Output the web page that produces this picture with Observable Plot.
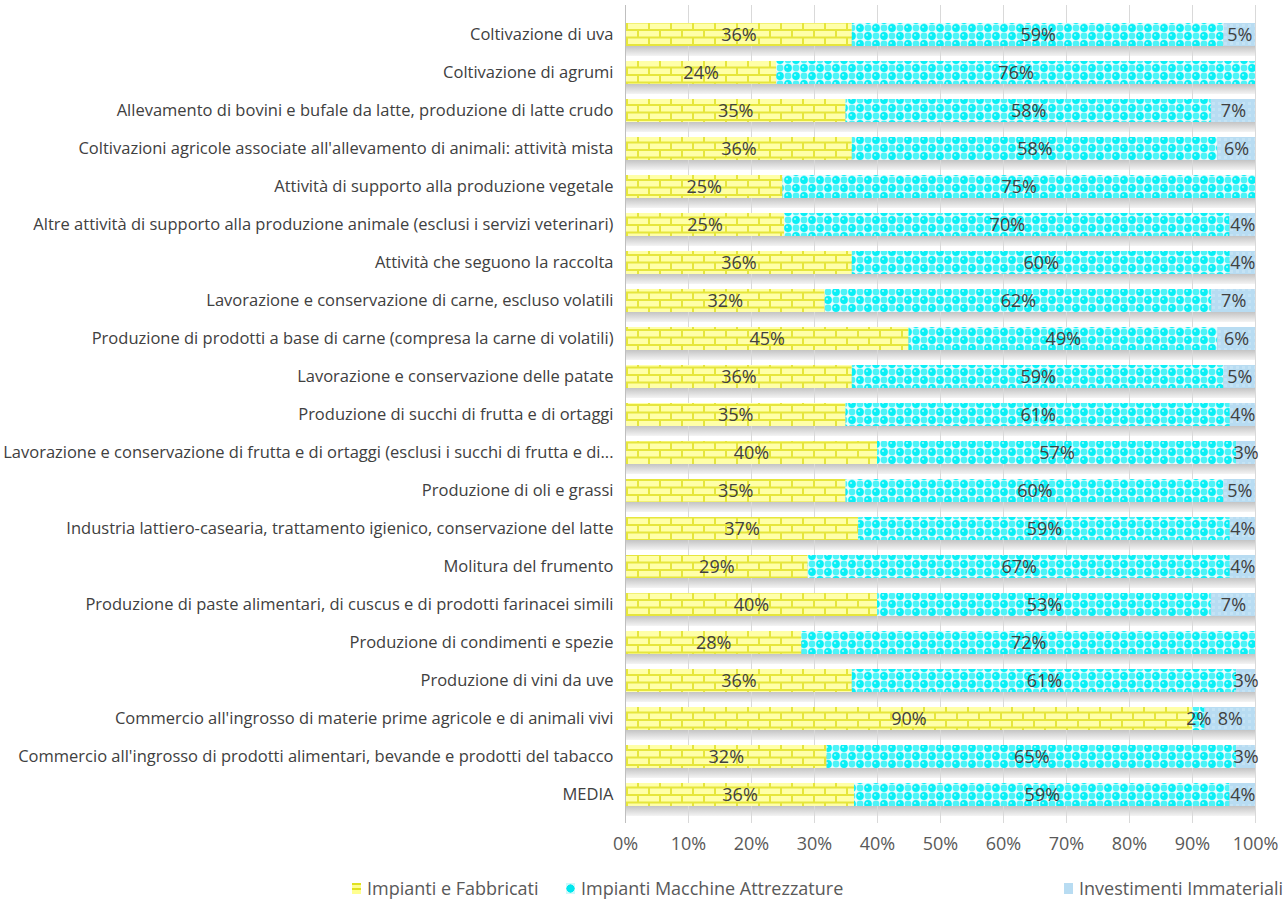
<!DOCTYPE html>
<html>
<head>
<meta charset="utf-8">
<script src="https://cdn.jsdelivr.net/npm/d3@7"></script>
<script src="https://cdn.jsdelivr.net/npm/@observablehq/plot@0.6"></script>
<style>
  html, body { margin: 0; padding: 0; background: #fff; }
  #wrap { position: relative; width: 1288px; height: 912px; }
  #legend { position: absolute; top: 876px; left: 0; width: 1288px; height: 30px;
    font-family: "Open Sans", sans-serif; font-size: 18px; color: #595959; }
  .item { position: absolute; top: 0; display: flex; align-items: center; white-space: nowrap; }
  .sw { width: 9px; height: 11px; margin-right: 6px; }
</style>
</head>
<body>
<div id="wrap">
  <div id="chart"></div>
  <div id="legend"></div>
</div>
<script>
const categories = [
  "Coltivazione di uva",
  "Coltivazione di agrumi",
  "Allevamento di bovini e bufale da latte, produzione di latte crudo",
  "Coltivazioni agricole associate all'allevamento di animali: attività mista",
  "Attività di supporto alla produzione vegetale",
  "Altre attività di supporto alla produzione animale (esclusi i servizi veterinari)",
  "Attività che seguono la raccolta",
  "Lavorazione e conservazione di carne, escluso volatili",
  "Produzione di prodotti a base di carne (compresa la carne di volatili)",
  "Lavorazione e conservazione delle patate",
  "Produzione di succhi di frutta e di ortaggi",
  "Lavorazione e conservazione di frutta e di ortaggi (esclusi i succhi di frutta e di...",
  "Produzione di oli e grassi",
  "Industria lattiero-casearia, trattamento igienico, conservazione del latte",
  "Molitura del frumento",
  "Produzione di paste alimentari, di cuscus e di prodotti farinacei simili",
  "Produzione di condimenti e spezie",
  "Produzione di vini da uve",
  "Commercio all'ingrosso di materie prime agricole e di animali vivi",
  "Commercio all'ingrosso di prodotti alimentari, bevande e prodotti del tabacco",
  "MEDIA"
];
const fabbricati  = [36, 24, 35, 36, 25, 25, 36, 32, 45, 36, 35, 40, 35, 37, 29, 40, 28, 36, 90, 32, 36];
const macchine    = [59, 76, 58, 58, 75, 70, 60, 62, 49, 59, 61, 57, 60, 59, 67, 53, 72, 61, 2, 65, 59];
const immateriali = [5, 0, 7, 6, 0, 4, 4, 7, 6, 5, 4, 3, 5, 4, 4, 7, 0, 3, 8, 3, 4];
const seriesNames = ["Impianti e Fabbricati", "Impianti Macchine Attrezzature", "Investimenti Immateriali"];
const xTicks = [0, 0.1, 0.2, 0.3, 0.4, 0.5, 0.6, 0.7, 0.8, 0.9, 1];

const fills = {
  "Impianti e Fabbricati": "url(#pBrick)",
  "Impianti Macchine Attrezzature": "url(#pDots)",
  "Investimenti Immateriali": "url(#pLight)"
};

const seriesValues = [fabbricati, macchine, immateriali];
const data = [];
categories.forEach((c, i) => {
  seriesNames.forEach((s, k) => {
    data.push({cat: c, series: s, order: k, value: seriesValues[k][i]});
  });
});

const rowData = categories.map(c => ({cat: c, v: 1}));

const chart = Plot.plot({
  width: 1288,
  height: 865,
  marginLeft: 625,
  marginRight: 33,
  marginTop: 5,
  marginBottom: 42,
  style: {background: "transparent"},
  x: {domain: [0, 1], ticks: xTicks, tickFormat: d => Math.round(d * 100) + "%"},
  y: {domain: categories, padding: 0.4},
  marks: [
    Plot.barX(rowData, {x: "v", y: "cat", fill: "url(#gShadow)", dy: 10}),
    Plot.ruleX(xTicks, {stroke: "#d9d9d9", strokeWidth: 1}),
    Plot.barX(data, Plot.stackX({
      x: "value", y: "cat", z: "series", order: "order", offset: "normalize",
      fill: d => fills[d.series]
    })),
    Plot.text(data.filter(d => d.value > 0), Plot.stackX({
      x: "value", y: "cat", z: "series", order: "order", offset: "normalize",
      text: d => d.value + "%",
      fill: "#404040", fontSize: 18, fontFamily: "Open Sans, sans-serif"
    })),
    Plot.ruleX([0], {stroke: "#bfbfbf"}),
    Plot.axisX({ticks: xTicks, tickFormat: d => Math.round(d * 100) + "%", tickSize: 0, tickPadding: 14,
      fontSize: 18, fontFamily: "Open Sans, sans-serif", fill: "#595959", label: null}),
    Plot.axisY({tickSize: 0, tickPadding: 12, fontSize: 16.5, fontFamily: "Open Sans, sans-serif",
      fill: "#404040", label: null, textOverflow: null})
  ]
});

const ns = "http://www.w3.org/2000/svg";
const defs = document.createElementNS(ns, "defs");
defs.innerHTML = `
  <pattern id="pBrick" patternUnits="userSpaceOnUse" width="22" height="15">
    <rect width="22" height="15" fill="#e6e63c"/>
    <rect x="1" y="1" width="20" height="5.5" fill="#ffffa8"/>
    <rect x="0" y="8.5" width="10" height="5.5" fill="#ffffa8"/>
    <rect x="12" y="8.5" width="10" height="5.5" fill="#ffffa8"/>
  </pattern>
  <pattern id="pDots" patternUnits="userSpaceOnUse" width="16" height="16">
    <rect width="16" height="16" fill="#e8fcfd"/>
    <circle cx="4" cy="4" r="3.9" fill="#0af0f6"/>
    <circle cx="12" cy="12" r="3.9" fill="#0af0f6"/>
    <circle cx="12" cy="4" r="3.4" fill="#4ef3f7"/>
    <circle cx="4" cy="12" r="3.4" fill="#4ef3f7"/>
    <circle cx="3" cy="3" r="1.1" fill="#a8f8fa"/>
    <circle cx="11" cy="11" r="1.1" fill="#a8f8fa"/>
  </pattern>
  <pattern id="pLight" patternUnits="userSpaceOnUse" width="6" height="6">
    <rect width="6" height="6" fill="#b8dcf2"/>
    <rect x="0" y="0" width="3" height="3" fill="#c4e3f5"/>
  </pattern>
  <linearGradient id="gShadow" x1="0" y1="0" x2="0" y2="1">
    <stop offset="0" stop-color="#b0b0b0"/>
    <stop offset="0.55" stop-color="#c2c2c2"/>
    <stop offset="1" stop-color="#f4f4f4"/>
  </linearGradient>`;
chart.insertBefore(defs, chart.firstChild);
document.getElementById("chart").appendChild(chart);

const legend = document.getElementById("legend");
const legendLeft = [352, 566, 1064];
const swFill = {
  "Impianti e Fabbricati": "linear-gradient(#e0e020 0 20%, #ffff90 20% 45%, #e0e020 45% 60%, #ffff90 60%)",
  "Impianti Macchine Attrezzature": "radial-gradient(circle, #00e6ee 55%, #cdf9fb 60%)",
  "Investimenti Immateriali": "#b8dcf2"
};
seriesNames.forEach((s, k) => {
  const it = document.createElement("div");
  it.className = "item";
  it.style.left = legendLeft[k] + "px";
  const sw = document.createElement("div");
  sw.className = "sw";
  sw.style.background = swFill[s];
  const t = document.createElement("span");
  t.textContent = s;
  it.appendChild(sw);
  it.appendChild(t);
  legend.appendChild(it);
});
</script>
</body>
</html>
